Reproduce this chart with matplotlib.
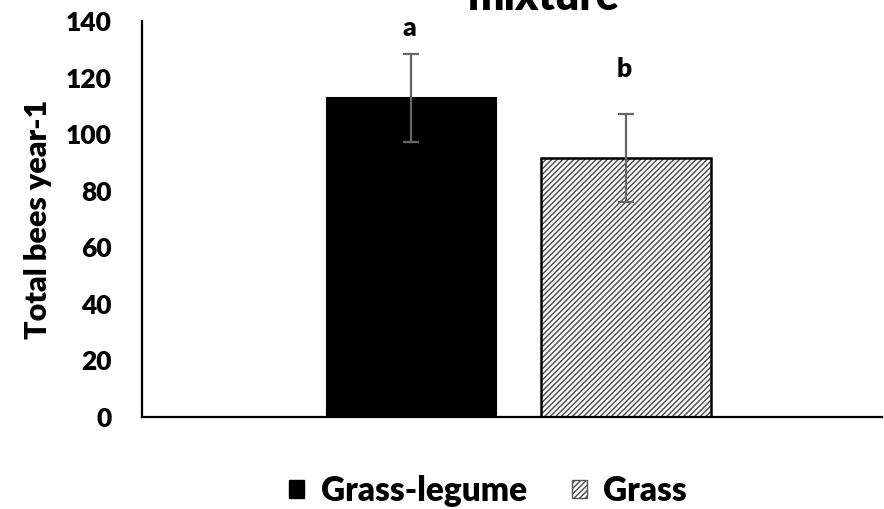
import matplotlib
matplotlib.use("Agg")
import matplotlib.pyplot as plt
from matplotlib.patches import Patch

# treatment means and error
treatments = ["Grass-legume", "Grass"]
bees = [112.8, 91.6]
err = [15.7, 15.5]
letters = ["a", "b"]
yticks = [0, 20, 40, 60, 80, 100, 120, 140]

plt.rcParams['font.family'] = ['Lato', 'DejaVu Sans']
plt.rcParams['hatch.linewidth'] = 1.1
W = 'heavy'

fig = plt.figure(figsize=(8.84, 5.09), dpi=100)
ax = fig.add_axes([0.1606, 0.1807, 0.8371, 0.778])

x = [0, 1]
w = 0.79
ax.bar(x[0], bees[0], w, color='black', edgecolor='black', linewidth=1.5)
# hatched bar: gray hatch first, black outline on top
ax.bar(x[1], bees[1], w, color='white', edgecolor='#555555', hatch='//////', linewidth=0)
ax.bar(x[1], bees[1], w, color='none', edgecolor='black', linewidth=1.8)

ax.errorbar(x, bees, yerr=err, fmt='none', ecolor='#666666', elinewidth=1.6,
            capsize=6, capthick=1.6)

# significance letters above the error bars
offs = [9, 16]
for xi, m, e, o, lab in zip(x, bees, err, offs, letters):
    ax.text(xi - 0.01, m + e + o, lab, ha='center', va='center',
            fontsize=19, fontweight=W)

ax.set_xlim(-1.256, 2.193)
ax.set_ylim(0, 140)
ax.set_yticks(yticks)
ax.set_xticks([])
ax.tick_params(axis='y', length=0, pad=22, labelsize=19)
for t in ax.get_yticklabels():
    t.set_fontweight(W)
ax.spines['top'].set_visible(False)
ax.spines['right'].set_visible(False)
ax.spines['left'].set_linewidth(1.6)
ax.spines['bottom'].set_linewidth(1.6)

ax.set_ylabel("Total bees year-1", fontsize=22, fontweight=W, labelpad=10)

fig.text(544 / 884, 1 - 10 / 509, "mixture", ha='center', va='baseline',
         fontsize=31, fontweight=W)

handles = [Patch(facecolor='black', edgecolor='black'),
           Patch(facecolor='white', edgecolor='#555555', hatch='//////')]
fig.legend(handles, treatments, loc='center', bbox_to_anchor=(488 / 884, 0.035),
           ncol=2, frameon=False, handlelength=0.45, handleheight=0.45,
           handletextpad=0.5, columnspacing=1.35, prop={'weight': W, 'size': 24})

fig.savefig("out.png", dpi=100)
